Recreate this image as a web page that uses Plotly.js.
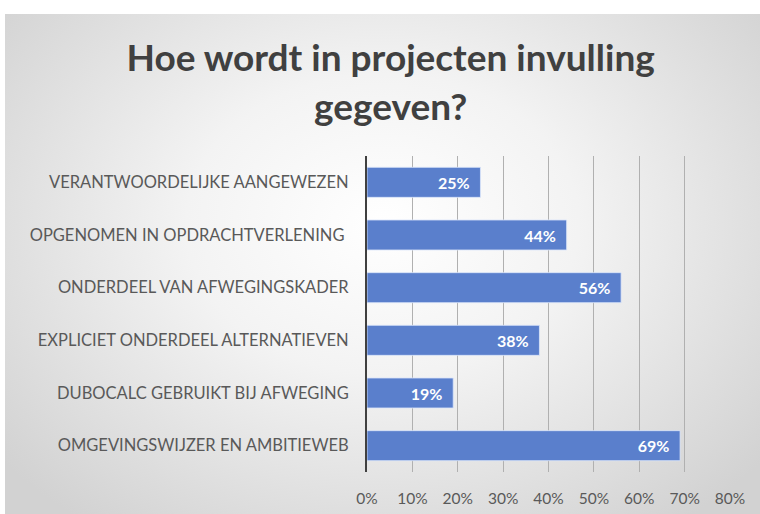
<!DOCTYPE html>
<html>
<head>
<meta charset="utf-8">
<script src="https://cdn.plot.ly/plotly-3.0.1.min.js"></script>
<style>
  html, body { margin: 0; padding: 0; background: #ffffff; }
  #bg { position: absolute; left: 5px; top: 14px; width: 755px; height: 500px;
        background: radial-gradient(ellipse 65% 75% at 50% 42%, #ffffff 0%, #f3f3f3 40%, #d2d2d2 100%); }
  #chart { position: absolute; left: 0; top: 0; width: 760px; height: 514px; }
</style>
</head>
<body>
<div id="bg"></div>
<div id="chart"></div>
<script>
const categories = [
  "VERANTWOORDELIJKE AANGEWEZEN",
  "OPGENOMEN IN OPDRACHTVERLENING ",
  "ONDERDEEL VAN AFWEGINGSKADER",
  "EXPLICIET ONDERDEEL ALTERNATIEVEN",
  "DUBOCALC GEBRUIKT BIJ AFWEGING",
  "OMGEVINGSWIJZER EN AMBITIEWEB"
];
const values = [0.25, 0.44, 0.56, 0.38, 0.19, 0.69];
const tickValues = [0, 0.1, 0.2, 0.3, 0.4, 0.5, 0.6, 0.7, 0.8];
const tickLabels = ["0%", "10%", "20%", "30%", "40%", "50%", "60%", "70%", "80%"];

const trace = {
  type: 'bar',
  orientation: 'h',
  x: values,
  y: categories,
  marker: { color: '#5a7fcc', line: { color: 'rgba(220,230,250,0.8)', width: 1 } },
  texttemplate: '%{x:.0%}\u00a0\u00a0',
  textposition: 'inside',
  insidetextanchor: 'end',
  textfont: { family: 'Lato, "Open Sans", sans-serif', size: 16, color: '#ffffff', weight: 'bold' },
  hoverinfo: 'none',
  cliponaxis: false
};

const layout = {
  width: 760, height: 514,
  paper_bgcolor: 'rgba(0,0,0,0)',
  plot_bgcolor: 'rgba(0,0,0,0)',
  margin: { l: 367, r: 30, t: 156, b: 42 },
  bargap: 0.43,
  showlegend: false,
  font: { family: 'Lato, "Open Sans", sans-serif', color: '#595959' },
  title: {
    text: 'Hoe wordt in projecten invulling<br>gegeven?',
    font: { family: 'Lato, "Open Sans", sans-serif', size: 37, color: '#404040', weight: 'bold' },
    x: 0.514, xanchor: 'center',
    y: 0.861, yanchor: 'middle', yref: 'container'
  },
  xaxis: {
    range: [0, 0.8],
    tickvals: tickValues,
    ticktext: tickLabels,
    showgrid: true,
    gridcolor: '#b0b0b0',
    gridwidth: 1,
    zeroline: false,
    showline: false,
    ticks: '',
    ticklabelstandoff: 15,
    tickfont: { size: 15.5, color: '#595959' },
    fixedrange: true
  },
  yaxis: {
    autorange: 'reversed',
    showline: true,
    linecolor: '#404040',
    linewidth: 2,
    showgrid: false,
    zeroline: false,
    ticks: '',
    ticklabelstandoff: 13,
    tickfont: { size: 16.5, color: '#595959' },
    fixedrange: true
  }
};

Plotly.newPlot('chart', [trace], layout, { displayModeBar: false, staticPlot: true });
</script>
</body>
</html>
